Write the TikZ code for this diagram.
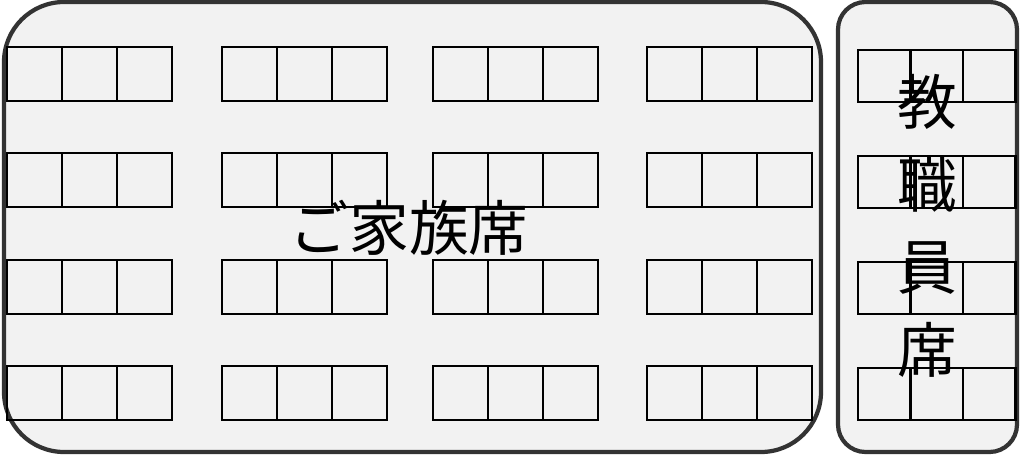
\documentclass[tikz,border=0pt]{standalone}
\usepackage{fontspec}
\newfontfamily\jpfont{Noto Sans CJK JP}
\usetikzlibrary{positioning}

\begin{document}
\begin{tikzpicture}[
  x=0.02cm, y=-0.02cm,
  area/.style={draw=black!80, line width=2.4pt, fill=black!5},
  seat/.style={rectangle, draw=black, line width=1.6pt, minimum width=1.1cm, minimum height=1.08cm, inner sep=0pt, outer sep=0pt, anchor=north west},
  staffseat/.style={seat, minimum width=1.05cm, minimum height=1.04cm},
  bigtext/.style={font=\jpfont\fontsize{34}{47}\selectfont, inner sep=0pt, align=center}
]
\useasboundingbox (0,0) rectangle (1022,457);

%Areas
\draw[area, rounded corners=1.2cm] (4,2) rectangle (821,452);
\draw[area, rounded corners=0.55cm] (838,2) rectangle (1017,452);

%Family seats
\foreach \row/\y in {1/47,2/153,3/260,4/366}{
  \foreach \grp/\x in {1/7,2/222,3/433,4/647}{
    \node[seat] (f\row\grp a) at (\x,\y) {};
    \node[seat, right=0pt of f\row\grp a] (f\row\grp b) {};
    \node[seat, right=0pt of f\row\grp b] (f\row\grp c) {};
  }
}

%Staff seats
\foreach \row/\y in {1/50,2/156,3/262,4/368}{
  \node[staffseat] (s\row a) at (858,\y) {};
  \node[staffseat, right=0pt of s\row a] (s\row b) {};
  \node[staffseat, right=0pt of s\row b] (s\row c) {};
}

%Labels
\node[bigtext] (family) at (409,228) {ご家族席};
\node[bigtext] (staff) at (927,226) {教\\職\\員\\席};
\end{tikzpicture}
\end{document}
